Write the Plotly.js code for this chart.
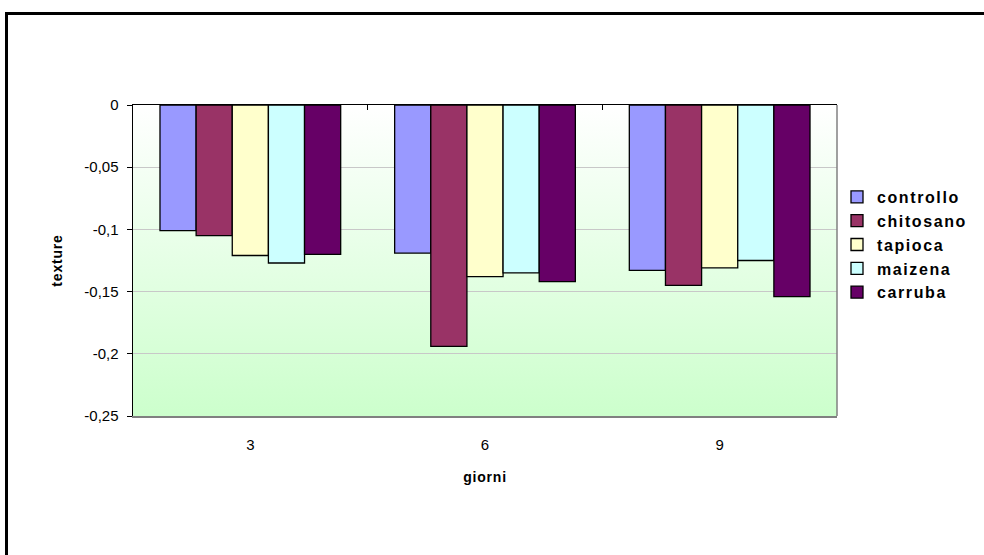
<!DOCTYPE html>
<html>
<head>
<meta charset="utf-8">
<script src="https://cdn.plot.ly/plotly-3.0.1.min.js"></script>
<style>
html,body{margin:0;padding:0;background:#fff;overflow:hidden;}
#chart{width:984px;height:555px;}
.legendtext{letter-spacing:1.6px;}
.xtitle,.ytitle{letter-spacing:0.8px;}
</style>
</head>
<body>
<div id="chart"></div>
<script>
const categories = ['3', '6', '9'];
const seriesNames = ['controllo', 'chitosano', 'tapioca', 'maizena', 'carruba'];
const controllo = [-0.101, -0.119, -0.133];
const chitosano = [-0.105, -0.194, -0.145];
const tapioca   = [-0.121, -0.138, -0.131];
const maizena   = [-0.127, -0.135, -0.125];
const carruba   = [-0.120, -0.142, -0.154];
const yTickVals = [0, -0.05, -0.1, -0.15, -0.2, -0.25];
const yTickText = ['0', '-0,05', '-0,1', '-0,15', '-0,2', '-0,25'];
const colors = ['#9999FF', '#993366', '#FFFFCC', '#CCFFFF', '#660066'];

const seriesValues = [controllo, chitosano, tapioca, maizena, carruba];
const font = 'Liberation Sans, Arial, sans-serif';

const traces = seriesNames.map((name, i) => ({
  type: 'bar',
  name: name,
  x: categories,
  y: seriesValues[i],
  legendgroup: name,
  marker: {color: colors[i], line: {color: '#000000', width: 1.3}},
  hoverinfo: 'x+y+name'
}));

const gradSvg = '<svg xmlns="http://www.w3.org/2000/svg" width="10" height="100" preserveAspectRatio="none">' +
  '<defs><linearGradient id="g" x1="0" y1="0" x2="0" y2="1">' +
  '<stop offset="0" stop-color="#FFFFFF"/><stop offset="1" stop-color="#CCFFCC"/></linearGradient></defs>' +
  '<rect width="10" height="100" fill="url(#g)"/></svg>';
const gradUri = 'data:image/svg+xml;base64,' + btoa(gradSvg);

const L = 133, R = 147, T = 105, B = 139;
const W = 984 - L - R, H = 555 - T - B;
const px = p => (p - L) / W;
const py = p => 1 - (p - T) / H;

const layout = {
  width: 984, height: 555,
  margin: {l: L, r: R, t: T, b: B, pad: 0},
  paper_bgcolor: '#FFFFFF',
  plot_bgcolor: 'rgba(0,0,0,0)',
  font: {family: font, size: 15, color: '#000000'},
  barmode: 'group',
  bargap: 0.23,
  bargroupgap: 0,
  showlegend: true,
  legend: {
    x: 1.0, xanchor: 'left', y: py(180), yanchor: 'top',
    font: {family: font, size: 16, color: '#000000', weight: 'bold'},
    bgcolor: 'rgba(0,0,0,0)', borderwidth: 0,
    tracegroupgap: 10, itemwidth: 30, traceorder: 'normal'
  },
  xaxis: {
    type: 'category',
    categoryorder: 'array', categoryarray: categories,
    showline: true, linecolor: '#808080', linewidth: 2,
    ticks: '', showgrid: false, zeroline: false,
    tickfont: {family: font, size: 15},
    ticklabelstandoff: 14,
    title: {text: 'giorni', font: {family: font, size: 14, weight: 'bold'}, standoff: 20},
    fixedrange: true
  },
  xaxis2: {
    type: 'category', overlaying: 'x', matches: 'x', side: 'top', anchor: 'y',
    categoryorder: 'array', categoryarray: categories,
    showline: true, linecolor: '#000000', linewidth: 1.5,
    ticks: 'inside', tickson: 'boundaries', ticklen: 5, tickcolor: '#000000', tickwidth: 1,
    showticklabels: false, showgrid: false, zeroline: false
  },
  yaxis: {
    range: [-0.25, 0],
    tickvals: yTickVals, ticktext: yTickText,
    showline: true, linecolor: '#000000', linewidth: 1.5,
    ticks: 'outside', ticklen: 5, tickcolor: '#000000', tickwidth: 1,
    showgrid: true, gridcolor: '#C8C8C8', gridwidth: 1,
    zeroline: false,
    tickfont: {family: font, size: 15},
    ticklabelstandoff: 5,
    title: {text: 'texture', font: {family: font, size: 14, weight: 'bold'}, standoff: 18},
    fixedrange: true
  },
  images: [{
    source: gradUri, xref: 'paper', yref: 'paper',
    x: 0, y: 1, sizex: 1, sizey: 1, xanchor: 'left', yanchor: 'top',
    sizing: 'stretch', layer: 'below'
  }],
  shapes: [
    {type: 'line', xref: 'paper', yref: 'paper', x0: 1, x1: 1, y0: 0, y1: 1,
     line: {color: '#808080', width: 1.5}, layer: 'above'},
    {type: 'rect', xref: 'paper', yref: 'paper',
     x0: px(6.5), y0: py(700), x1: px(1200), y1: py(13.5),
     line: {color: '#000000', width: 3}, fillcolor: 'rgba(0,0,0,0)', layer: 'above'}
  ]
};

traces.push({type: 'bar', x: categories, y: [null, null, null], xaxis: 'x2', yaxis: 'y',
  showlegend: false, hoverinfo: 'skip', marker: {color: 'rgba(0,0,0,0)'}});

Plotly.newPlot('chart', traces, layout, {staticPlot: true, displayModeBar: false});
</script>
</body>
</html>
